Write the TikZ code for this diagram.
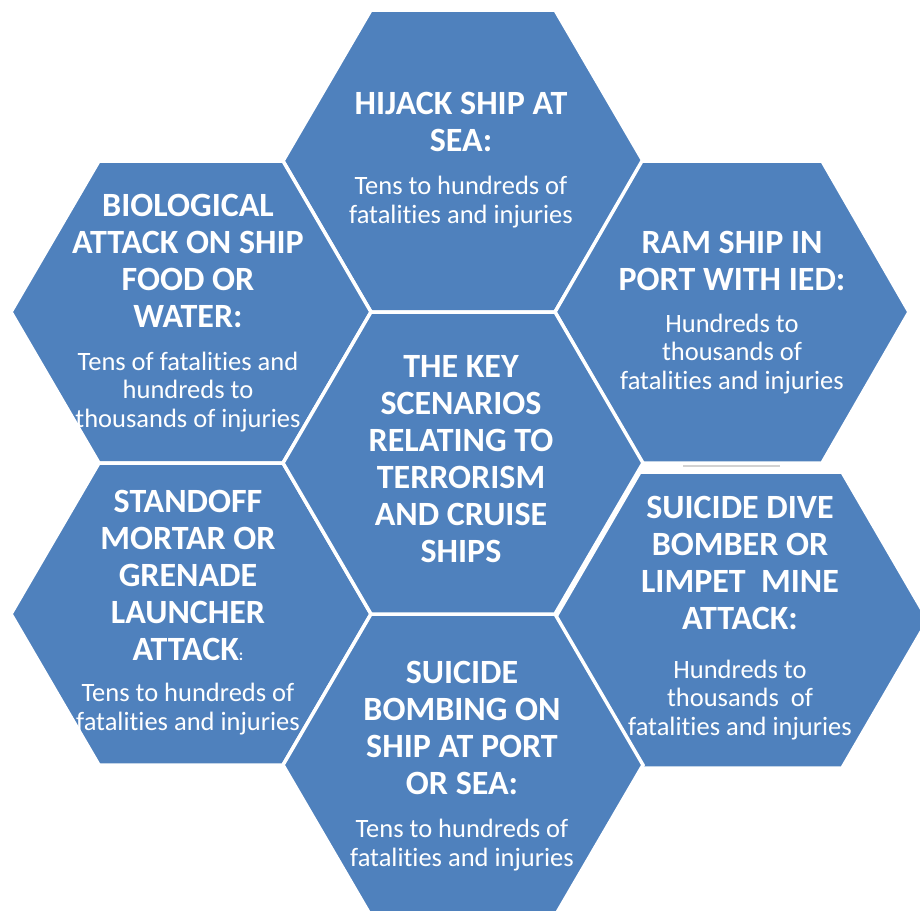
\documentclass[tikz,border=0pt]{standalone}
\usepackage{fontspec}
\setmainfont{Carlito}[Ligatures=NoCommon]
\usepackage{tikz}
\usetikzlibrary{positioning}
\definecolor{hexblue}{HTML}{4F81BD}

% one flat-topped cell: centre, half width, half height, half top edge
\newcommand{\hexat}[4]{\draw[hexcell] (#1) ++(-#2,0) -- ++({#2-#4},{-#3}) -- ++({2*#4},0) -- ++({#2-#4},{#3}) -- ++({#4-#2},{#3}) -- ++({-2*#4},0) -- cycle;}

\begin{document}
\begin{tikzpicture}[
    x={(1pt,0)}, y={(0,-1pt)},
    hexcell/.style={fill=hexblue, draw=white, line width=3.5pt, line join=miter},
    headline/.style={text=white, font=\bfseries\fontsize{34}{37}\selectfont, align=center, inner sep=0pt},
    detail/.style={text=white, font=\fontsize{26.5}{28.5}\selectfont, align=center, inner sep=0pt}
]
\clip (0,0) rectangle (920,910);

% cell centres
\coordinate (ctop) at (463,161);
\coordinate (cmid) at (463,463);
\coordinate (clu) at (191,312);
\coordinate (cll) at (191,614);
\coordinate (cru) at (732,312);
\coordinate (crl) at (741,620);
\coordinate (cbot) at (463,765);

% honeycomb
\hexat{ctop}{180}{151}{92}
\hexat{clu}{180}{151}{92}
\hexat{cll}{180}{151}{92}
\hexat{cru}{177}{151}{90}
\hexat{crl}{187}{148}{101}
\hexat{cbot}{180}{151}{92}
\hexat{cmid}{180}{151}{92}
\draw[gray!35, line width=1.5pt] (683,466) -- (780,466);

% centre
\node[headline] (key) at (461,459) {THE KEY\\SCENARIOS\\RELATING TO\\TERRORISM\\AND CRUISE\\SHIPS};

% top
\node[headline] (hijack) at (461,122) {HIJACK SHIP AT\\SEA:};
\node[detail] (hijackd) at (461,202) {Tens to hundreds of\\fatalities and injuries};

% upper left
\node[headline] (bio) at (188,261) {BIOLOGICAL\\ATTACK ON SHIP\\FOOD OR\\WATER:};
\node[detail] (biod) at (188,392) {Tens of fatalities and\\hundreds to\\thousands of injuries};

% upper right
\node[headline] (ram) at (732,261) {RAM SHIP IN\\PORT WITH IED:};
\node[detail] (ramd) at (732,354) {Hundreds to\\thousands of\\fatalities and injuries};

% lower left
\node[headline] (standoff) at (188,575) {STANDOFF\\MORTAR OR\\GRENADE\\LAUNCHER\\ATTACK{\fontsize{16}{16}\selectfont:}};
\node[detail] (standoffd) at (188,709) {Tens to hundreds of\\fatalities and injuries};

% lower right
\node[headline] (dive) at (740,563) {SUICIDE DIVE\\BOMBER OR\\LIMPET\ \ MINE\\ATTACK:};
\node[detail] (dived) at (740,700) {Hundreds to\\thousands\ \ of\\fatalities and injuries};

% bottom
\node[headline] (bombing) at (462,728) {SUICIDE\\BOMBING ON\\SHIP AT PORT\\OR SEA:};
\node[detail] (bombingd) at (462,845) {Tens to hundreds of\\fatalities and injuries};
\end{tikzpicture}
\end{document}
